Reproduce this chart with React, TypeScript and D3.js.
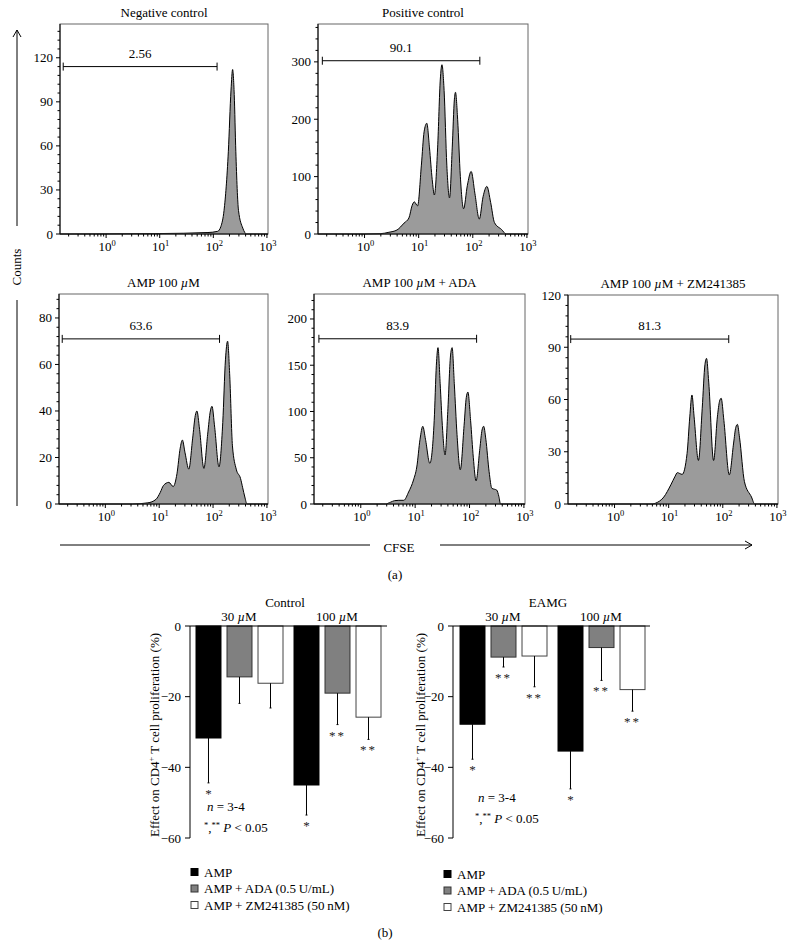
import React from 'react';
import * as d3 from 'd3';

// ---------- DATA ----------
type Pt = [number, number]; // [log10(CFSE), counts]

const negativeControl: Pt[] = [[-0.86, 0], [1.0, 0.3], [1.9, 1], [2.08, 1.8], [2.14, 5], [2.2, 16], [2.28, 56], [2.33, 98], [2.36, 112], [2.39, 95], [2.42, 56], [2.47, 16], [2.55, 4], [2.62, 0], [3.02, 0]];
const positiveControl: Pt[] = [[-0.86, 0], [0.0, 0], [0.29, 0.5], [0.45, 3], [0.6, 7], [0.73, 19], [0.82, 28], [0.88, 50], [0.92, 56], [0.98, 49], [1.05, 120], [1.1, 178], [1.15, 193], [1.2, 150], [1.25, 95], [1.29, 68], [1.35, 150], [1.4, 270], [1.43, 295], [1.47, 250], [1.52, 120], [1.57, 63], [1.62, 150], [1.66, 235], [1.68, 247], [1.72, 200], [1.77, 100], [1.83, 44], [1.9, 85], [1.97, 109], [2.04, 70], [2.12, 26], [2.19, 65], [2.26, 83], [2.33, 55], [2.4, 20], [2.53, 8], [2.62, 0], [3.02, 0]];
const amp100: Pt[] = [[-0.86, 0], [0.5, 0], [0.79, 0.5], [0.94, 2], [1.02, 5], [1.08, 8], [1.18, 9.3], [1.26, 7.5], [1.33, 13], [1.39, 24], [1.43, 27.5], [1.48, 22], [1.55, 15], [1.62, 28], [1.67, 38], [1.7, 40], [1.75, 32], [1.83, 15.3], [1.9, 30], [1.95, 40], [1.98, 42], [2.03, 33], [2.11, 16], [2.18, 35], [2.23, 62], [2.27, 70], [2.31, 55], [2.36, 25], [2.43, 15], [2.51, 11], [2.55, 7], [2.59, 3], [2.63, 0], [3.02, 0]];
const amp100Ada: Pt[] = [[-0.86, 0], [0.45, 0], [0.55, 2], [0.62, 3.6], [0.7, 4], [0.79, 4], [0.88, 13], [0.97, 26], [1.03, 40], [1.09, 70], [1.14, 84], [1.19, 70], [1.27, 44], [1.35, 90], [1.39, 150], [1.42, 169], [1.46, 130], [1.5, 85], [1.55, 53], [1.6, 100], [1.65, 160], [1.68, 169], [1.72, 130], [1.77, 75], [1.83, 37], [1.9, 85], [1.94, 115], [1.97, 121], [2.02, 90], [2.07, 50], [2.12, 25], [2.19, 60], [2.23, 80], [2.26, 84], [2.3, 70], [2.36, 35], [2.41, 17], [2.5, 15], [2.54, 8], [2.57, 0], [3.02, 0]];
const amp100Zm: Pt[] = [[-0.86, 0], [0.7, 0], [0.76, 0.5], [0.91, 4], [1.04, 11], [1.12, 16], [1.16, 18], [1.25, 17], [1.34, 29], [1.39, 50], [1.43, 62.6], [1.47, 50], [1.55, 25], [1.62, 55], [1.67, 80], [1.7, 83.6], [1.74, 70], [1.83, 25], [1.9, 50], [1.94, 59], [1.97, 60.7], [2.02, 48], [2.12, 16.7], [2.2, 35], [2.24, 44], [2.27, 45.7], [2.31, 38], [2.4, 12.8], [2.53, 4], [2.59, 0], [3.02, 0]];

const histTitles = ['Negative control', 'Positive control', 'AMP 100 µM', 'AMP 100 µM + ADA', 'AMP 100 µM + ZM241385'];
const gateLabels = ['2.56', '90.1', '63.6', '83.9', '81.3'];
const gateRanges: [number, number][] = [[-0.8, 2.07], [-0.78, 2.13], [-0.8, 2.12], [-0.77, 2.13], [-0.81, 2.11]];
const gateLevels = [114, 302, 71, 178.6, 94.7];
const yMaxes = [143, 366, 90.3, 227, 120];
const yMajors = [30, 100, 20, 50, 30];
const yMinors = [6, 20, 4, 10, 6];
const xTickDecades = [0, 1, 2, 3];

const groups = ['30 µM', '100 µM'];
const seriesNames = ['AMP', 'AMP + ADA (0.5 U/mL)', 'AMP + ZM241385 (50 nM)'];
const controlMeans = [[-31.7, -14.4, -16.2], [-45.0, -19.0, -25.8]];
const controlErrs = [[12.7, 7.5, 7.0], [8.5, 8.9, 6.3]];
const controlStars = [['*', '', ''], ['*', '**', '**']];
const eamgMeans = [[-27.8, -8.8, -8.5], [-35.4, -6.1, -18.0]];
const eamgErrs = [[9.9, 2.8, 8.7], [10.7, 9.3, 6.1]];
const eamgStars = [['*', '**', '**'], ['*', '**', '**']];
const barTicks = [0, -20, -40, -60];

// ---------- STYLE ----------
const FONT = "'Liberation Serif', 'Times New Roman', serif";
const FS = 13;
const X_DOMAIN: [number, number] = [-0.86, 3.02];
const seriesFill = ['#000000', '#808080', '#ffffff'];
const seriesStroke = ['#000000', '#333333', '#444444'];

const Mu = () => <tspan fontStyle="italic">µ</tspan>;
function titleText(t: string) {
  const parts = t.split('µ');
  if (parts.length === 1) return t;
  return (<>{parts[0]}<Mu />{parts[1]}</>);
}

interface HistProps {
  left: number; right: number; top: number; bottom: number;
  idx: number; data: Pt[];
}

function Histogram({ left, right, top, bottom, idx, data }: HistProps) {
  const yMax = yMaxes[idx], yMajor = yMajors[idx], yMinor = yMinors[idx];
  const x = d3.scaleLinear().domain(X_DOMAIN).range([left, right]);
  const y = d3.scaleLinear().domain([0, yMax]).range([bottom, top]);
  const area = d3.area<Pt>().x(d => x(d[0])).y0(y(0)).y1(d => y(d[1])).curve(d3.curveMonotoneX);
  const line = d3.line<Pt>().x(d => x(d[0])).y(d => y(d[1])).curve(d3.curveMonotoneX);
  const majors = d3.range(0, yMax + 0.001, yMajor);
  const minors = d3.range(0, yMax + 0.001, yMinor).filter(v => Math.abs(v / yMajor - Math.round(v / yMajor)) > 1e-6);
  const xMinor: number[] = [];
  for (let dd = -1; dd <= 2; dd++) for (let k = 2; k <= 9; k++) {
    const v = dd + Math.log10(k);
    if (v > X_DOMAIN[0] && v < X_DOMAIN[1]) xMinor.push(v);
  }
  const [g0, g1] = gateRanges[idx];
  const gy = y(gateLevels[idx]);
  const cx = (left + right) / 2;
  return (
    <g fontFamily={FONT}>
      <text x={cx} y={top - 7} textAnchor="middle" fontSize={FS}>{titleText(histTitles[idx])}</text>
      <path d={area(data) || ''} fill="#9b9b9b" />
      <path d={line(data) || ''} fill="none" stroke="#000" strokeWidth={1} />
      <rect x={left} y={top} width={right - left} height={bottom - top} fill="none" stroke="#666" strokeWidth={1} />
      <line x1={left} x2={left} y1={top} y2={bottom} stroke="#000" />
      <line x1={left} x2={right} y1={bottom} y2={bottom} stroke="#000" />
      {majors.map(v => (
        <g key={'ym' + v}>
          <line x1={left - 4} x2={left} y1={y(v)} y2={y(v)} stroke="#000" />
          <text x={left - 7} y={y(v) + 4.5} textAnchor="end" fontSize={FS}>{v}</text>
        </g>
      ))}
      {minors.map(v => (
        <line key={'yn' + v} x1={left - 2.5} x2={left} y1={y(v)} y2={y(v)} stroke="#000" />
      ))}
      {xTickDecades.map(v => (
        <g key={'xm' + v}>
          <line x1={x(v)} x2={x(v)} y1={bottom} y2={bottom + 4} stroke="#000" />
          <text x={x(v) + 1} y={bottom + 17} textAnchor="middle" fontSize={FS}>
            10<tspan dy={-5} fontSize={8.5}>{v}</tspan>
          </text>
        </g>
      ))}
      {xMinor.map(v => (
        <line key={'xn' + v} x1={x(v)} x2={x(v)} y1={bottom} y2={bottom + 2.5} stroke="#000" />
      ))}
      <line x1={x(g0)} x2={x(g1)} y1={gy} y2={gy} stroke="#000" />
      <line x1={x(g0)} x2={x(g0)} y1={gy - 4} y2={gy + 4} stroke="#000" />
      <line x1={x(g1)} x2={x(g1)} y1={gy - 4} y2={gy + 4} stroke="#000" />
      <text x={(x(g0) + x(g1)) / 2} y={gy - 9} textAnchor="middle" fontSize={FS}>{gateLabels[idx]}</text>
    </g>
  );
}

interface BarProps {
  axisX: number; title: string; means: number[][]; errs: number[][]; stars: string[][];
  nX: number; nY: number; pY: number; labelX: number; firstOffset: number;
}

function BarChart({ axisX, title, means, errs, stars, nX, nY, pY, labelX, firstOffset }: BarProps) {
  const y = d3.scaleLinear().domain([0, -60]).range([626, 838]);
  const gx = d3.scaleBand<string>().domain(groups).range([axisX + firstOffset, axisX + firstOffset + 196]).paddingInner(0).paddingOuter(0);
  const bx = d3.scaleBand<string>().domain(seriesNames).range([0, 87]).paddingInner(0.194);
  const bw = bx.bandwidth();
  return (
    <g fontFamily={FONT}>
      <text x={axisX + 95} y={607} textAnchor="middle" fontSize={FS}>{title}</text>
      {groups.map(g => (
        <text key={g} x={(gx(g) || 0) + 43} y={621} textAnchor="middle" fontSize={FS}>{titleText(g)}</text>
      ))}
      {groups.map((g, gi) => seriesNames.map((s, si) => {
        const m = means[gi][si];
        const e = errs[gi][si];
        const bx0 = (gx(g) || 0) + (bx(s) || 0);
        const c = bx0 + bw / 2;
        const yEnd = y(m - e);
        return (
          <g key={g + s}>
            <rect x={bx0} y={y(0)} width={bw} height={y(m) - y(0)} fill={seriesFill[si]} stroke={seriesStroke[si]} strokeWidth={1} />
            <line x1={c} x2={c} y1={y(m)} y2={yEnd} stroke="#000" />
            <line x1={c - 1} x2={c + 1} y1={yEnd} y2={yEnd} stroke="#000" />
            {stars[gi][si] && (
              <text x={c} y={yEnd + 15} textAnchor="middle" fontSize={FS} letterSpacing={stars[gi][si].length > 1 ? 2 : 0} fill="#222">{stars[gi][si]}</text>
            )}
          </g>
        );
      }))}
      <line x1={axisX} x2={axisX + 197} y1={y(0)} y2={y(0)} stroke="#000" />
      <line x1={axisX} x2={axisX} y1={y(0)} y2={y(-60)} stroke="#000" />
      {barTicks.map(t => (
        <g key={t}>
          <line x1={axisX - 5} x2={axisX} y1={y(t)} y2={y(t)} stroke="#000" />
          <text x={axisX - 9} y={y(t) + 4.5} textAnchor="end" fontSize={FS}>{t === 0 ? '0' : '\u2212' + Math.abs(t)}</text>
        </g>
      ))}
      <text transform={`translate(${labelX},${735}) rotate(-90)`} textAnchor="middle" fontSize={FS}>
        Effect on CD4<tspan dy={-5} fontSize={8.5}>+</tspan><tspan dy={5}> T cell proliferation (%)</tspan>
      </text>
      <text x={nX} y={nY} fontSize={FS}><tspan fontStyle="italic">n</tspan> = 3-4</text>
      <text x={nX - 3} y={pY} fontSize={FS}>
        <tspan dy={-4} fontSize={8.5}>*</tspan><tspan dy={4}>,</tspan><tspan dy={-4} fontSize={8.5}>**</tspan><tspan dy={4}> </tspan><tspan fontStyle="italic">P</tspan> &lt; 0.05
      </text>
    </g>
  );
}

function Legend({ x, y0, step }: { x: number; y0: number; step: number }) {
  return (
    <g fontFamily={FONT}>
      {seriesNames.map((s, i) => (
        <g key={s}>
          <rect x={x} y={y0 + i * step - 3.5} width={7} height={7} fill={seriesFill[i]} stroke={seriesStroke[i]} strokeWidth={1} />
          <text x={x + 13} y={y0 + i * step + 4.5} fontSize={FS}>{s.replace(' U/mL', '\u2009U/mL').replace(' nM', '\u2009nM')}</text>
        </g>
      ))}
    </g>
  );
}

export default function App() {
  return (
    <svg width={792} height={947} style={{ position: 'absolute', left: 0, top: 0, background: '#fff' }}>
      <rect x={0} y={0} width={792} height={947} fill="#fff" />
      <Histogram left={60} right={268} top={24} bottom={234} idx={0} data={negativeControl} />
      <Histogram left={318} right={528} top={24} bottom={234} idx={1} data={positiveControl} />
      <Histogram left={59} right={268} top={294} bottom={504} idx={2} data={amp100} />
      <Histogram left={314} right={525} top={294} bottom={504} idx={3} data={amp100Ada} />
      <Histogram left={568} right={778} top={295} bottom={504} idx={4} data={amp100Zm} />

      {/* Counts axis */}
      <line x1={17} x2={17} y1={30} y2={226} stroke="#000" />
      <polyline points="13,37 17,30 21,37" fill="none" stroke="#000" />
      <text transform="translate(21,267) rotate(-90)" textAnchor="middle" fontSize={FS} fontFamily={FONT}>Counts</text>
      <line x1={17} x2={17} y1={300} y2={506} stroke="#000" />

      {/* CFSE axis */}
      <line x1={60} x2={370} y1={545} y2={545} stroke="#000" />
      <text x={399} y={552} textAnchor="middle" fontSize={FS} fontFamily={FONT}>CFSE</text>
      <line x1={440} x2={752} y1={545} y2={545} stroke="#000" />
      <polyline points="745,541 752,545 745,549" fill="none" stroke="#000" />
      <text x={395} y={579} textAnchor="middle" fontSize={FS} fontFamily={FONT}>(a)</text>

      <BarChart axisX={190} title="Control" means={controlMeans} errs={controlErrs} stars={controlStars}
        nX={207} nY={811} pY={832} labelX={159} firstOffset={6} />
      <BarChart axisX={453} title="EAMG" means={eamgMeans} errs={eamgErrs} stars={eamgStars}
        nX={478} nY={802} pY={823} labelX={425} firstOffset={7} />

      <Legend x={191} y0={872} step={16.5} />
      <Legend x={444} y0={874} step={16.5} />
      <text x={385} y={937} textAnchor="middle" fontSize={FS} fontFamily={FONT}>(b)</text>
    </svg>
  );
}
